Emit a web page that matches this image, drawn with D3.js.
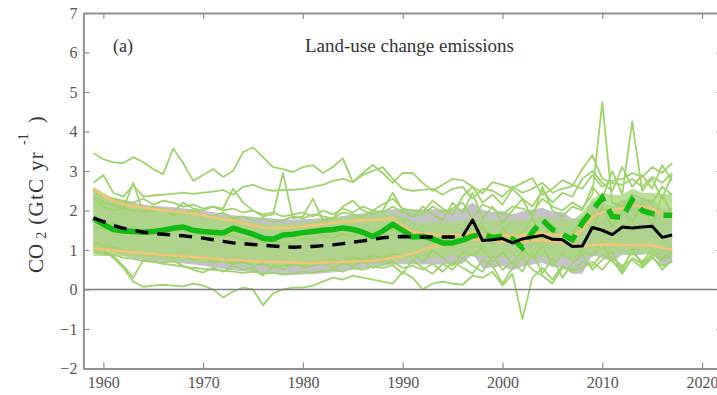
<!DOCTYPE html>
<html>
<head>
<meta charset="utf-8">
<script src="https://cdn.jsdelivr.net/npm/d3@7"></script>
<style>
  html, body { margin: 0; padding: 0; background: #fff; }
  svg { display: block; }
</style>
</head>
<body>
<svg id="chart" width="717" height="395"></svg>
<script>
// Years covered by every series
const years = d3.range(1959, 2018);

// Bookkeeping mean (black)
const bookkeepingMean = [1.81,1.72,1.62,1.55,1.50,1.45,1.42,1.40,1.38,1.36,1.33,1.30,1.26,1.22,1.18,1.16,1.14,1.12,1.10,1.08,
  1.07,1.08,1.09,1.11,1.13,1.16,1.20,1.23,1.27,1.31,1.33,1.34,1.33,1.33,1.33,1.33,1.33,1.35,1.76,1.24,
  1.26,1.29,1.18,1.28,1.33,1.37,1.27,1.26,1.09,1.10,1.57,1.50,1.39,1.58,1.56,1.58,1.60,1.32,1.38];

// Uncertainty band around the bookkeeping mean (grey)
const bandHigh = [2.50,2.42,2.32,2.25,2.20,2.15,2.12,2.10,2.08,2.06,2.03,2.00,1.96,1.92,1.88,1.86,1.84,1.82,1.80,1.78,
  1.77,1.78,1.79,1.81,1.83,1.86,1.90,1.93,1.97,2.01,2.03,2.04,2.03,2.03,2.03,2.03,2.03,2.05,2.20,2.02,
  1.96,1.99,1.90,1.98,2.03,2.07,1.97,1.96,1.80,1.82,2.25,2.20,2.09,2.28,2.26,2.28,2.30,2.04,2.08];
const bandLow = [1.10,1.02,0.92,0.85,0.80,0.75,0.72,0.70,0.68,0.66,0.63,0.60,0.56,0.52,0.48,0.46,0.44,0.42,0.40,0.38,
  0.37,0.38,0.39,0.41,0.43,0.46,0.50,0.53,0.57,0.61,0.63,0.64,0.63,0.63,0.63,0.63,0.63,0.65,0.90,0.54,
  0.56,0.59,0.48,0.58,0.63,0.67,0.57,0.56,0.40,0.40,0.87,0.80,0.69,0.88,0.86,0.88,0.90,0.62,0.68];

// Model mean (thick green)
const modelMean = [1.80,1.65,1.52,1.48,1.47,1.45,1.47,1.50,1.55,1.58,1.50,1.47,1.45,1.43,1.55,1.48,1.40,1.30,1.27,1.38,
  1.40,1.44,1.47,1.50,1.52,1.56,1.52,1.45,1.34,1.48,1.65,1.50,1.33,1.35,1.28,1.18,1.18,1.25,1.35,1.40,
  1.32,1.35,1.28,1.06,1.45,1.76,1.52,1.40,1.26,1.68,2.00,2.32,1.85,1.82,2.27,2.00,1.92,1.88,1.88];

// Upper and lower orange bounds
const boundHigh = [2.55,2.38,2.24,2.16,2.10,2.07,2.04,2.01,1.98,1.96,1.92,1.88,1.83,1.78,1.74,1.69,1.62,1.57,1.56,1.56,
  1.57,1.59,1.63,1.66,1.68,1.71,1.73,1.75,1.76,1.78,1.81,1.62,1.47,1.42,1.40,1.39,1.38,1.38,1.45,1.40,
  1.38,1.38,1.36,1.37,1.40,1.42,1.38,1.36,1.35,1.50,1.85,1.95,2.02,2.05,2.14,2.10,2.05,1.90,1.95];
const boundLow = [1.05,1.02,0.99,0.96,0.94,0.92,0.90,0.88,0.86,0.84,0.82,0.80,0.78,0.76,0.75,0.74,0.72,0.71,0.70,0.69,
  0.68,0.67,0.67,0.68,0.69,0.70,0.71,0.72,0.73,0.76,0.80,0.85,0.92,1.00,1.08,1.15,1.22,1.26,1.28,1.25,
  1.24,1.22,1.20,1.22,1.24,1.25,1.22,1.20,1.15,1.12,1.12,1.14,1.13,1.12,1.12,1.13,1.12,1.05,1.02];

// Range covered by the bulk of the individual models (light green)
const spreadHigh = [2.60,2.45,2.30,2.20,2.15,2.10,2.05,2.02,2.00,1.98,1.95,1.90,1.86,1.82,1.80,1.76,1.70,1.66,1.65,1.66,
  1.68,1.70,1.74,1.77,1.80,1.82,1.85,1.87,1.88,1.92,1.95,1.85,1.72,1.70,1.70,1.70,1.72,1.75,1.80,1.78,
  1.75,1.75,1.78,1.75,1.80,1.85,1.80,1.78,1.75,1.95,2.30,2.45,2.40,2.40,2.55,2.45,2.45,2.40,2.45];
const spreadLow = [0.85,0.85,0.85,0.84,0.82,0.80,0.78,0.76,0.74,0.72,0.70,0.68,0.66,0.65,0.64,0.63,0.62,0.61,0.60,0.60,
  0.60,0.60,0.60,0.61,0.62,0.63,0.64,0.65,0.66,0.68,0.70,0.72,0.75,0.78,0.80,0.82,0.84,0.85,0.85,0.85,
  0.84,0.82,0.82,0.80,0.82,0.82,0.80,0.82,0.80,0.85,0.90,0.92,0.92,0.90,0.92,0.92,0.92,0.88,0.88];

// Individual models (thin light green)
const modelA = [3.45,3.30,3.22,3.20,3.35,3.22,3.05,2.92,3.57,3.20,2.75,2.90,3.05,2.85,3.00,3.48,3.60,3.35,3.10,3.05,
  2.97,3.10,3.15,2.95,3.10,3.32,2.72,2.95,3.15,2.95,2.70,2.95,2.95,2.70,2.50,2.65,2.80,2.77,2.60,2.44,
  2.72,2.65,2.57,2.70,2.82,2.39,2.55,2.77,2.65,2.55,2.90,2.60,2.75,2.80,2.95,2.85,3.10,2.95,3.20];
const modelB = [2.70,2.90,2.45,2.35,2.64,2.35,2.38,2.40,2.42,2.45,2.42,2.45,2.48,2.52,2.40,2.60,2.65,2.55,2.50,2.52,
  2.52,2.55,2.60,2.65,2.75,2.80,2.72,2.90,3.00,3.10,2.80,2.55,2.50,2.52,2.55,2.40,2.55,2.60,2.30,2.55,
  2.50,2.35,2.60,2.45,2.55,2.70,2.45,2.55,2.62,3.05,3.40,2.80,2.70,2.65,2.80,2.60,2.85,2.70,2.95];
const modelC = [2.30,2.10,2.00,2.05,2.70,1.95,2.00,2.05,1.95,2.20,2.05,2.00,2.10,2.05,2.55,2.20,2.00,1.85,1.90,2.95,
  1.80,1.85,2.30,1.75,1.80,2.10,2.25,2.00,1.90,2.00,2.45,2.00,1.85,1.90,2.10,1.95,2.05,2.20,1.80,2.15,
  2.05,1.90,2.10,2.05,1.95,2.30,2.10,2.00,2.20,2.05,2.40,4.75,2.20,2.10,2.40,2.30,2.20,2.60,2.40];
const modelD = [2.35,2.20,2.15,2.05,2.00,1.95,2.10,2.00,1.90,1.95,2.00,1.90,1.85,1.95,1.80,1.85,1.75,1.80,1.70,1.75,
  1.85,1.80,1.90,1.85,1.80,1.95,1.90,1.85,2.00,1.95,2.10,1.95,1.85,2.10,1.90,1.75,2.20,1.95,2.45,1.80,
  2.10,1.70,2.00,2.30,1.80,2.60,2.00,1.85,2.10,2.00,2.60,2.30,3.00,2.40,4.25,2.50,2.80,2.30,2.90];
const modelE = [1.60,1.55,1.70,1.50,1.60,1.45,1.55,1.40,1.50,1.60,1.35,1.45,1.30,1.40,1.35,1.25,1.30,1.20,1.25,1.15,
  1.20,1.30,1.25,1.35,1.30,1.40,1.35,1.45,1.40,1.50,1.55,1.40,1.30,1.45,1.20,1.35,1.10,1.50,1.30,1.60,
  1.15,1.55,1.25,1.45,1.80,1.30,1.65,1.15,1.40,1.85,1.50,2.10,1.60,2.00,1.70,2.20,1.60,2.40,1.90];
const modelF = [1.20,1.10,1.05,1.00,0.95,0.90,0.85,0.90,0.80,0.85,0.75,0.80,0.70,0.75,0.65,0.70,0.60,0.65,0.55,0.60,
  0.65,0.60,0.70,0.65,0.75,0.70,0.80,0.75,0.85,0.80,0.90,0.85,0.95,0.70,1.00,0.80,0.60,0.95,0.85,1.05,
  0.70,0.95,0.65,1.00,0.80,1.10,0.60,0.90,0.75,1.00,0.85,1.20,0.70,0.55,0.95,0.70,1.00,0.80,0.95];
const modelG = [1.00,0.95,0.85,0.60,0.30,0.75,0.70,0.68,0.72,0.60,0.50,0.43,0.55,0.45,0.60,0.50,0.55,0.35,0.60,0.50,
  0.65,0.55,0.60,0.70,0.55,0.65,0.60,0.70,0.55,0.62,0.70,0.55,0.60,0.50,0.65,0.45,0.70,0.55,0.40,0.75,
  0.60,0.15,0.55,0.80,0.50,0.35,0.15,0.55,0.50,0.70,0.60,0.90,0.75,0.40,0.80,0.65,0.90,0.75,0.85];
const modelH = [1.10,1.00,0.80,0.55,0.20,0.07,0.10,0.12,0.10,0.08,0.15,0.10,0.00,-0.20,-0.05,0.05,0.00,-0.40,-0.10,0.00,
  0.05,0.05,0.10,0.20,0.30,0.25,0.35,0.30,0.25,0.20,0.15,0.45,0.30,0.00,0.15,0.20,0.15,0.12,0.35,0.30,
  0.45,0.10,0.40,-0.75,0.30,0.55,0.25,0.60,0.45,0.55,0.70,0.50,0.80,0.60,0.75,0.55,0.80,0.60,0.70];
const modelI = [2.50,2.35,2.30,2.25,2.20,2.30,2.15,2.25,2.20,2.10,2.15,2.05,2.10,2.00,2.05,1.95,2.00,1.90,1.95,1.85,
  1.90,1.95,1.85,2.00,1.90,2.05,1.95,2.10,2.00,2.15,2.30,2.05,2.00,1.95,2.25,2.05,1.90,2.35,2.60,2.20,
  2.40,2.15,2.55,2.30,2.10,2.50,2.20,2.45,2.35,2.80,3.00,2.70,2.50,3.10,2.60,2.90,2.55,3.15,2.75];
const modelJ = [0.95,0.90,0.88,0.80,0.78,0.72,0.70,0.65,0.62,0.58,0.55,0.52,0.50,0.48,0.45,0.42,0.45,0.40,0.42,0.38,
  0.40,0.45,0.42,0.48,0.50,0.45,0.55,0.50,0.58,0.55,0.62,0.40,0.75,0.55,0.40,0.65,0.50,0.80,0.60,0.45,
  0.85,0.50,0.70,0.45,0.95,0.40,0.80,0.30,0.65,0.90,0.50,0.75,0.95,0.45,1.05,0.60,0.85,0.50,0.75];
const modelRuns = [modelA, modelB, modelC, modelD, modelE, modelF, modelG, modelH, modelI, modelJ];

// Axis ticks and text
const xTicks = [1960, 1970, 1980, 1990, 2000, 2010, 2020];
const yTicks = [-2, -1, 0, 1, 2, 3, 4, 5, 6, 7];
const panelLabel = "(a)";
const panelTitle = "Land-use change emissions";
const splitYear = 1996;

const FONT = "Liberation Serif";
const svg = d3.select("#chart");
const plotLeft = 83.4, plotRight = 722, plotTop = 13, plotBottom = 368.5;

const x = d3.scaleLinear().domain([1958, 2022]).range([plotLeft, plotRight]);
const y = d3.scaleLinear().domain([-2, 7]).range([plotBottom, plotTop]);

const pts = arr => years.map((yr, i) => [yr, arr[i]]);
const line = d3.line().x(d => x(d[0])).y(d => y(d[1]));
const bandArea = (hi, lo) => d3.area()
  .x((yr) => x(yr))
  .y0((yr, i) => y(lo[i]))
  .y1((yr, i) => y(hi[i]))(years);

const plot = svg.append("g");

// grey uncertainty band
plot.append("path").attr("d", bandArea(bandHigh, bandLow))
  .attr("fill", "#c3c3c7");

// light green spread of models
plot.append("path").attr("d", bandArea(spreadHigh, spreadLow))
  .attr("fill", "#a9d77e").attr("fill-opacity", 0.8);

// individual model runs
plot.selectAll("path.run").data(modelRuns).join("path")
  .attr("class", "run")
  .attr("d", d => line(pts(d)))
  .attr("fill", "none")
  .attr("stroke", "#9fd36c")
  .attr("stroke-width", 1.8)
  .attr("stroke-linejoin", "round");

// orange bounds
[boundHigh, boundLow].forEach(arr => {
  plot.append("path").attr("d", line(pts(arr)))
    .attr("fill", "none").attr("stroke", "#f1c47a")
    .attr("stroke-width", 2.6).attr("stroke-linejoin", "round");
});

// model mean: solid early, dashed later
const early = d => d[0] <= splitYear;
const late = d => d[0] >= splitYear;
plot.append("path").attr("d", line(pts(modelMean).filter(early)))
  .attr("fill", "none").attr("stroke", "#14bb14")
  .attr("stroke-width", 5.5).attr("stroke-linejoin", "round");
plot.append("path").attr("d", line(pts(modelMean).filter(late)))
  .attr("fill", "none").attr("stroke", "#14bb14")
  .attr("stroke-width", 5.5).attr("stroke-dasharray", "16,9");

// bookkeeping mean: dashed early, solid later
plot.append("path").attr("d", line(pts(bookkeepingMean).filter(early)))
  .attr("fill", "none").attr("stroke", "#000")
  .attr("stroke-width", 3.4).attr("stroke-dasharray", "13,9");
plot.append("path").attr("d", line(pts(bookkeepingMean).filter(late)))
  .attr("fill", "none").attr("stroke", "#000")
  .attr("stroke-width", 3).attr("stroke-linejoin", "round");

// zero line
svg.append("line")
  .attr("x1", plotLeft).attr("x2", plotRight)
  .attr("y1", y(0)).attr("y2", y(0))
  .attr("stroke", "#7d7d7d").attr("stroke-width", 1.3);

// axes with inward ticks
const axisColor = "#8f8f8f";
function styleAxis(g) {
  g.attr("font-family", FONT).attr("font-size", 16);
  g.select(".domain").attr("stroke", axisColor).attr("stroke-width", 2);
  g.selectAll(".tick line").attr("stroke", axisColor).attr("stroke-width", 1.2);
  g.selectAll(".tick text").attr("fill", "#555");
}
svg.append("g").attr("transform", `translate(0,${plotBottom})`)
  .call(d3.axisBottom(x).tickValues(xTicks).tickFormat(d3.format("d")).tickSize(-6).tickSizeOuter(0).tickPadding(8))
  .call(styleAxis);
svg.append("g").attr("transform", `translate(0,${plotTop})`)
  .call(d3.axisTop(x).tickValues(xTicks).tickFormat("").tickSize(-6).tickSizeOuter(0))
  .call(styleAxis);
svg.append("g").attr("transform", `translate(${plotLeft},0)`)
  .call(d3.axisLeft(y).tickValues(yTicks).tickFormat(d3.format("d")).tickSize(-6).tickSizeOuter(0).tickPadding(6))
  .call(styleAxis);
svg.append("g").attr("transform", `translate(${plotRight},0)`)
  .call(d3.axisRight(y).tickValues(yTicks).tickFormat("").tickSize(-6).tickSizeOuter(0))
  .call(styleAxis);

// panel label and title
svg.append("text").attr("x", 113).attr("y", 52)
  .attr("fill", "#333").attr("font-family", FONT).attr("font-size", 18).text(panelLabel);
svg.append("text").attr("x", 305).attr("y", 52)
  .attr("fill", "#333").attr("font-family", FONT).attr("font-size", 19).text(panelTitle);

// y axis title with sub/superscripts
const yTitle = svg.append("text")
  .attr("transform", "translate(43,273) rotate(-90)")
  .attr("fill", "#333").attr("font-family", FONT).attr("font-size", 21);
yTitle.append("tspan").text("CO");
yTitle.append("tspan").attr("dx", 5).attr("dy", 3).attr("font-size", 14).text("2");
yTitle.append("tspan").attr("dx", 7).attr("dy", -3).attr("letter-spacing", 1.3).text("(GtC yr");
yTitle.append("tspan").attr("dx", 6).attr("dy", -15).attr("font-size", 14).text("-1");
yTitle.append("tspan").attr("dx", 10).attr("dy", 15).text(")");
</script>
</body>
</html>
